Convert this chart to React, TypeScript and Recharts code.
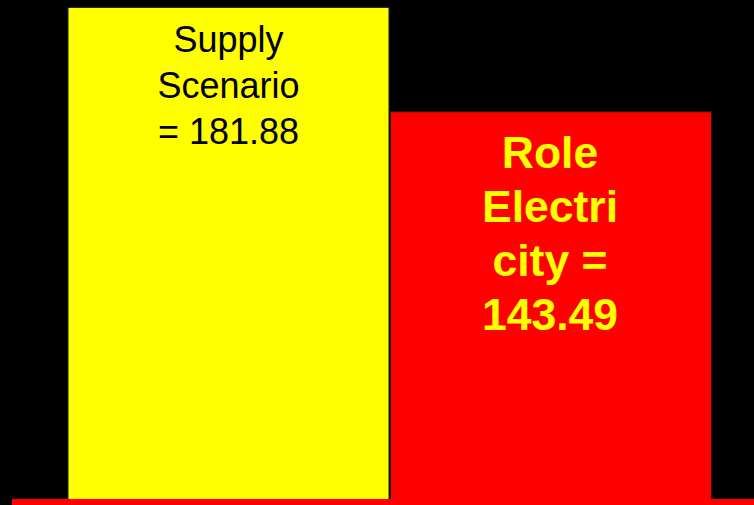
import React from "react";
import { BarChart, Bar, XAxis, YAxis, Cell, LabelList } from "recharts";

const categories = ["Supply Scenario", "Role Electricity"];
const values = [181.88, 143.49];
const barColors = ["#ffff00", "#ff0000"];
const labelLines = [
    ["Supply", "Scenario", "= 181.88"],
    ["Role", "Electri", "city =", "143.49"],
];

const data = categories.map((name, i) => ({ name, value: values[i] }));

const labelStyles = [
    { fill: "#000000", fontSize: 36, fontWeight: 400, first: 45, step: 46 },
    { fill: "#ffff00", fontSize: 44.5, fontWeight: 700, first: 56, step: 54 },
];

const BarText = (props: any) => {
    const { x, y, width, index } = props;
    const s = labelStyles[index];
    const cx = Number(x) + Number(width) / 2 - (index === 1 ? 1 : 0);
    return (
        <text
            x={cx}
            y={Number(y) + s.first}
            textAnchor="middle"
            fill={s.fill}
            fontSize={s.fontSize}
            fontWeight={s.fontWeight}
            fontFamily="'Liberation Sans', Arial, sans-serif"
        >
            {labelLines[index].map((line, i) => (
                <tspan key={i} x={cx} dy={i === 0 ? 0 : s.step}>
                    {line}
                </tspan>
            ))}
        </text>
    );
};

export default function App() {
    return (
        <div
            style={{
                position: "fixed",
                left: 0,
                top: 0,
                width: 754,
                height: 505,
                background: "#000000",
            }}
        >
            <BarChart
                width={754}
                height={505}
                data={data}
                margin={{ top: 0, right: 0, bottom: 0, left: 12 }}
                barCategoryGap={1}
            >
                <XAxis
                    dataKey="name"
                    height={3}
                    tick={false}
                    tickLine={false}
                    padding={{ left: 55, right: 42 }}
                    axisLine={{ stroke: "#ff0000", strokeWidth: 6 }}
                />
                <YAxis hide domain={[0, 184.6]} />
                <Bar dataKey="value" isAnimationActive={false} stroke="#222200" strokeWidth={1}>
                    {data.map((d, i) => (
                        <Cell key={d.name} fill={barColors[i]} />
                    ))}
                    <LabelList dataKey="value" content={BarText} />
                </Bar>
            </BarChart>
        </div>
    );
}
